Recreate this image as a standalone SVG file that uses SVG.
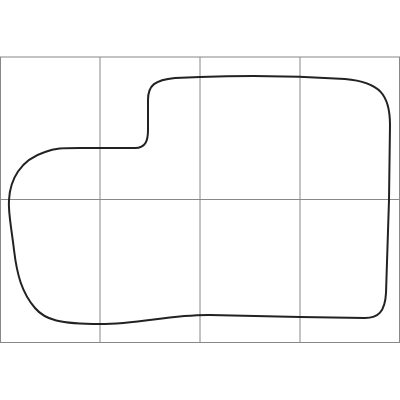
<svg xmlns="http://www.w3.org/2000/svg" width="400" height="400" viewBox="0 0 400 400">
<style>
.grid{stroke:#888;stroke-width:1;fill:none}
.shape{stroke:#222;stroke-width:2;fill:none;stroke-linejoin:round}
</style>
<rect width="400" height="400" fill="#fff"/>
<g id="grid">
<rect x="0.5" y="57" width="399" height="285.5" fill="#fcfcfc" class="grid"/>
<line class="grid" x1="100" y1="57" x2="100" y2="342.5"/>
<line class="grid" x1="200" y1="57" x2="200" y2="342.5"/>
<line class="grid" x1="300" y1="57" x2="300" y2="342.5"/>
<line class="grid" x1="0" y1="199.5" x2="400" y2="199.5"/>
</g>
<g id="outline">
<path class="shape" d="M 200,77 C 250,75 300,76 345,79 C 380,82 390,95 390,125 L 389,200 L 386,293 C 385,312 378,318 365,318 L 300,317 L 210,315 C 170,314.5 140,324 100,324 C 60,324 45,320 35,308 C 22,293 17,275 14,250 C 11,225 8,212 9,200 C 10,180 20,160 45,152 C 55,148 62,148 80,148 L 135,148 C 146,148 148,140 148,130 L 148,100 C 148,85 155,80 175,78 Z"/>
</g>
</svg>
